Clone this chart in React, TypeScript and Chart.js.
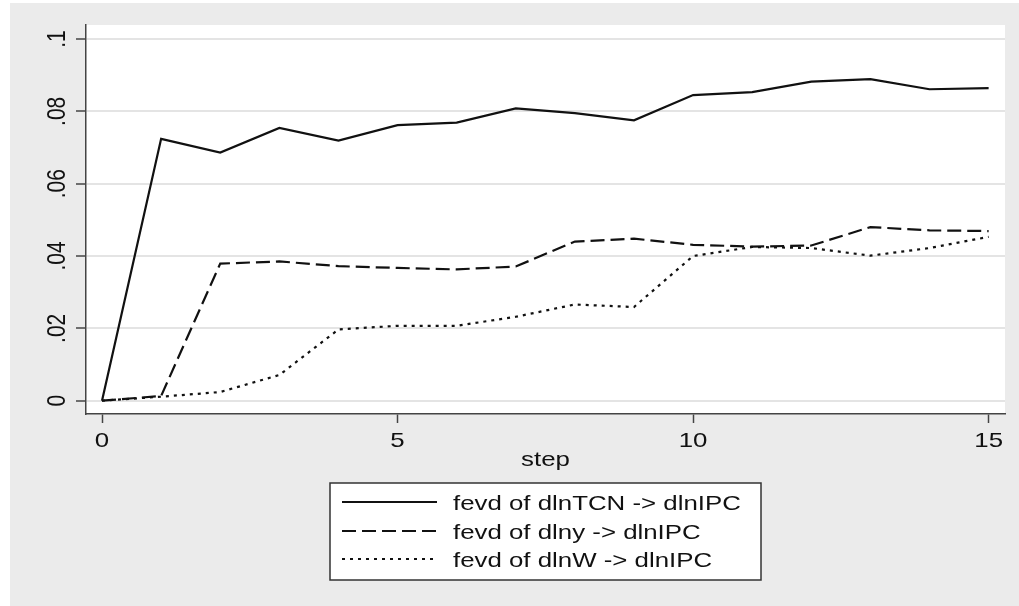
import React, { useEffect, useRef } from "react";
import { Chart, registerables } from "chart.js";

Chart.register(...registerables);

// Forecast-error variance decomposition of dlnIPC, steps 0..15
const steps = [0, 1, 2, 3, 4, 5, 6, 7, 8, 9, 10, 11, 12, 13, 14, 15];
const fevdTCN = [0, 0.0724, 0.0686, 0.0754, 0.0719, 0.0762, 0.0769, 0.0808, 0.0795, 0.0775, 0.0845, 0.0853, 0.0882, 0.0889, 0.0861, 0.0864];
const fevdY = [0, 0.0013, 0.0379, 0.0385, 0.0372, 0.0367, 0.0363, 0.0371, 0.044, 0.0448, 0.0431, 0.0426, 0.0429, 0.048, 0.0471, 0.0469];
const fevdW = [0, 0.0011, 0.0024, 0.0071, 0.0197, 0.0207, 0.0207, 0.0232, 0.0266, 0.0259, 0.04, 0.0425, 0.0422, 0.0401, 0.0422, 0.0453];

const seriesLabels = [
  "fevd of dlnTCN -> dlnIPC",
  "fevd of dlny -> dlnIPC",
  "fevd of dlnW -> dlnIPC",
];

const xTicks = [0, 5, 10, 15];
const yTicks = [0, 0.02, 0.04, 0.06, 0.08, 0.1];
const yTickLabels = ["0", ".02", ".04", ".06", ".08", ".1"];
const xTitle = "step";

const LINE = "#111111";
const DASHES = [[], [14, 6], [3, 5]];
const FONT = '21px "Liberation Sans", Arial, sans-serif';
const SX = 1.23; // horizontal widening of the lettering

function wideText(
  ctx: CanvasRenderingContext2D,
  text: string,
  x: number,
  y: number,
  align: CanvasTextAlign,
  rotated = false
) {
  ctx.save();
  ctx.translate(x, y);
  ctx.scale(SX, 1);
  if (rotated) ctx.rotate(-Math.PI / 2);
  ctx.font = FONT;
  ctx.fillStyle = "#111";
  ctx.textAlign = align;
  ctx.textBaseline = "alphabetic";
  ctx.fillText(text, 0, 0);
  ctx.restore();
}

const backdrop = {
  id: "backdrop",
  beforeDraw(chart: any) {
    const { ctx, width, height, chartArea } = chart;
    ctx.save();
    ctx.fillStyle = "#ffffff";
    ctx.fillRect(0, 0, width, height);
    ctx.fillStyle = "#ebebeb";
    ctx.fillRect(10, 3, width - 10, height - 3);
    ctx.fillStyle = "#ffffff";
    ctx.fillRect(
      chartArea.left,
      chartArea.top,
      chartArea.right - chartArea.left,
      chartArea.bottom - chartArea.top
    );
    ctx.restore();
  },
};

const lettering = {
  id: "lettering",
  afterDraw(chart: any) {
    const { ctx, chartArea } = chart;
    const xs = chart.scales.x;
    const ys = chart.scales.y;

    xTicks.forEach((v) => {
      wideText(ctx, String(v), xs.getPixelForValue(v), 447, "center");
    });
    yTicks.forEach((v, i) => {
      wideText(ctx, yTickLabels[i], 65, ys.getPixelForValue(v), "center", true);
    });

    const midX = (chartArea.left + chartArea.right) / 2;
    wideText(ctx, xTitle, midX, 466, "center");

    // legend box
    const boxW = 431;
    const boxX = midX - boxW / 2;
    const boxY = 483;
    const boxH = 97;
    ctx.save();
    ctx.fillStyle = "#ffffff";
    ctx.fillRect(boxX, boxY, boxW, boxH);
    ctx.strokeStyle = "#333";
    ctx.lineWidth = 1.5;
    ctx.strokeRect(boxX, boxY, boxW, boxH);
    ctx.restore();

    const rowY = [502, 531, 559];
    seriesLabels.forEach((label, i) => {
      ctx.save();
      ctx.strokeStyle = LINE;
      ctx.lineWidth = 2.2;
      ctx.setLineDash(DASHES[i]);
      ctx.beginPath();
      ctx.moveTo(boxX + 12, rowY[i]);
      ctx.lineTo(boxX + 107, rowY[i]);
      ctx.stroke();
      ctx.restore();
      wideText(ctx, label, boxX + 123, rowY[i] + 8, "left");
    });
  },
};

export default function App() {
  const canvasRef = useRef<HTMLCanvasElement | null>(null);

  useEffect(() => {
    document.body.style.margin = "0";
    const canvas = canvasRef.current;
    if (!canvas) return;

    const series = [fevdTCN, fevdY, fevdW];
    const chart = new Chart(canvas, {
      type: "line",
      data: {
        datasets: series.map((vals, i) => ({
          label: seriesLabels[i],
          data: steps.map((s, k) => ({ x: s, y: vals[k] })),
          borderColor: LINE,
          borderWidth: 2.2,
          borderDash: DASHES[i],
          borderCapStyle: "butt" as const,
          pointRadius: 0,
          tension: 0,
          fill: false,
        })),
      },
      options: {
        responsive: false,
        animation: false,
        devicePixelRatio: 1,
        layout: { padding: { left: 76, top: 25, right: 14, bottom: 183 } },
        plugins: {
          legend: { display: false },
          tooltip: { enabled: false },
        },
        scales: {
          x: {
            type: "linear",
            min: -0.271,
            max: 15.277,
            ticks: { stepSize: 5, includeBounds: false, display: false },
            grid: {
              drawOnChartArea: false,
              drawTicks: true,
              tickLength: 9,
              tickColor: "#444",
              tickWidth: 1.5,
            },
            border: { display: true, color: "#444", width: 1.5 },
          },
          y: {
            type: "linear",
            min: -0.00368,
            max: 0.10387,
            ticks: { stepSize: 0.02, includeBounds: false, display: false },
            grid: {
              color: "#e4e4e4",
              lineWidth: 2,
              drawTicks: true,
              tickLength: 10,
              tickColor: "#444",
              tickWidth: 1.5,
            },
            border: { display: true, color: "#444", width: 1.5 },
          },
        },
      },
      plugins: [backdrop, lettering],
    });

    return () => chart.destroy();
  }, []);

  return (
    <div style={{ position: "absolute", left: 0, top: 0, width: 1019, height: 606 }}>
      <canvas ref={canvasRef} width={1019} height={606} />
    </div>
  );
}
